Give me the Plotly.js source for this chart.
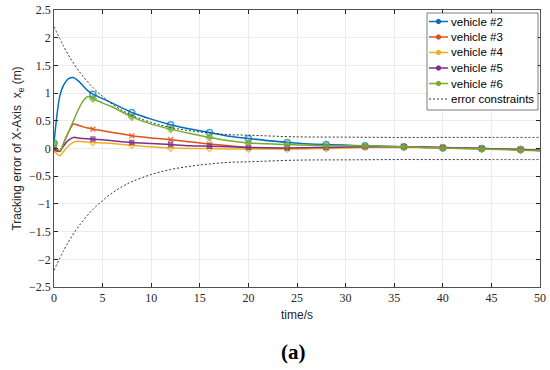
<!DOCTYPE html>
<html>
<head>
<meta charset="utf-8">
<script src="https://cdn.plot.ly/plotly-3.0.1.min.js"></script>
<style>html,body{margin:0;padding:0;background:#fff;}#chart{width:550px;height:370px;}</style>
</head>
<body>
<div id="chart"></div>
<script>
// time samples (s)
var timeS = [0,0.3,0.6,1,1.5,2,2.5,3,3.5,4,5,6,8,10,12,14,16,18,20,24,28,32,36,40,44,48,50];
// tracking error of X axis (m) per vehicle
var vehicle2 = [0.10,0.60,0.95,1.15,1.26,1.28,1.22,1.13,1.04,0.98,0.90,0.82,0.65,0.53,0.43,0.35,0.29,0.22,0.18,0.11,0.07,0.05,0.03,0.01,0.00,-0.02,-0.04];
var vehicle3 = [0.00,-0.04,-0.05,0.10,0.30,0.44,0.42,0.39,0.37,0.35,0.32,0.29,0.23,0.19,0.16,0.12,0.08,0.05,0.02,0.00,0.01,0.03,0.03,0.02,0.00,-0.02,-0.03];
var vehicle4 = [-0.02,-0.10,-0.13,-0.05,0.05,0.11,0.13,0.12,0.115,0.11,0.10,0.09,0.06,0.03,0.01,0.00,0.00,-0.01,-0.01,-0.01,0.00,0.02,0.02,0.01,-0.01,-0.02,-0.03];
var vehicle5 = [0.00,-0.04,-0.05,0.05,0.15,0.20,0.19,0.18,0.175,0.17,0.16,0.14,0.11,0.09,0.07,0.05,0.04,0.03,0.02,0.01,0.02,0.03,0.03,0.02,0.00,-0.02,-0.03];
var vehicle6 = [0.10,0.00,-0.04,0.10,0.30,0.50,0.70,0.86,0.94,0.90,0.82,0.75,0.57,0.44,0.35,0.27,0.20,0.14,0.10,0.07,0.05,0.05,0.03,0.01,-0.01,-0.03,-0.04];
// error constraint envelope
var boundT = [0,1,2,3,4,5,6,7,8,10,12,14,16,18,20,25,30,35,40,45,50];
var boundUpper = [2.2,1.84,1.54,1.30,1.10,0.94,0.80,0.69,0.60,0.47,0.38,0.32,0.28,0.25,0.24,0.21,0.205,0.2,0.2,0.2,0.2];
var boundLower = [-2.2,-1.84,-1.54,-1.30,-1.10,-0.94,-0.80,-0.69,-0.60,-0.47,-0.38,-0.32,-0.28,-0.25,-0.24,-0.21,-0.205,-0.2,-0.2,-0.2,-0.2];
// markers shown every 4 s
var markerEvery = 4;
var names = ['vehicle #2','vehicle #3','vehicle #4','vehicle #5','vehicle #6'];
var boundName = 'error constraints';

var series = [vehicle2, vehicle3, vehicle4, vehicle5, vehicle6];
var colors = ['#0072BD','#D95319','#EDB120','#7E2F8E','#77AC30'];
var symbols = ['circle-open','x-thin-open','diamond-open','square','diamond'];
var msizes = [6,5,5,4,5];
var boundColor = '#333333';

var sizesFor = function(s){ return timeS.map(function(t){ return (t % markerEvery === 0) ? s : 0; }); };

var traces = series.map(function(ys, i){
  return {
    x: timeS, y: ys, name: names[i], type: 'scatter', mode: 'lines+markers', showlegend: false,
    line: {color: colors[i], width: 1.5, shape: 'spline', smoothing: 0.8},
    marker: {symbol: symbols[i], size: sizesFor(msizes[i]), color: colors[i], line: {color: colors[i], width: 1.5}}
  };
});
traces.push({
  x: boundT, y: boundUpper, name: boundName, type: 'scatter', mode: 'lines', showlegend: false,
  line: {color: boundColor, width: 1, dash: '2px,2px', shape: 'spline'}
});
traces.push({
  x: boundT, y: boundLower, name: boundName, type: 'scatter', mode: 'lines', showlegend: false,
  line: {color: boundColor, width: 1, dash: '2px,2px', shape: 'spline'}
});

// ---- custom compact legend (MATLAB style), positioned in pixels ----
var PL = 54, PR = 540, PT = 10, PB = 287;
var px = function(p){ return (p - PL) / (PR - PL); };
var py = function(p){ return (PB - p) / (PB - PT); };
var shapes = [], annotations = [];
var boxL = 427, boxR = 538, boxT = 13, boxB = 110;
shapes.push({type: 'rect', xref: 'paper', yref: 'paper', x0: px(boxL), x1: px(boxR), y0: py(boxB), y1: py(boxT),
             fillcolor: '#ffffff', line: {color: '#262626', width: 0.6}, layer: 'above'});
var rowY0 = 21.5, rowDY = 15.5, lineL = 429, lineR = 448, textX = 449;
var allNames = names.concat([boundName]);
allNames.forEach(function(nm, i){
  var yy = rowY0 + i * rowDY;
  var isBound = (i === names.length);
  var col = isBound ? boundColor : colors[i];
  shapes.push({type: 'line', xref: 'paper', yref: 'paper', x0: px(lineL), x1: px(lineR), y0: py(yy), y1: py(yy),
               line: {color: col, width: isBound ? 1 : 1.5, dash: isBound ? '2px,2px' : 'solid'}, layer: 'above'});
  if (!isBound) {
    var cx = (lineL + lineR) / 2, r = 2.2;
    shapes.push({type: 'circle', xref: 'paper', yref: 'paper', x0: px(cx - r), x1: px(cx + r), y0: py(yy + r), y1: py(yy - r),
                 fillcolor: col, line: {color: col, width: 1}, layer: 'above'});
  }
  annotations.push({xref: 'paper', yref: 'paper', x: px(textX), y: py(yy), xanchor: 'left', yanchor: 'middle',
                    text: nm, showarrow: false, font: {family: 'Liberation Sans, Arial, sans-serif', size: 11.5, color: '#000'}});
});
annotations.push({
  xref: 'paper', yref: 'paper', x: px(293), y: py(352), xanchor: 'center', yanchor: 'middle',
  text: '<b>(a)</b>', showarrow: false,
  font: {family: 'Liberation Serif, DejaVu Serif, serif', size: 21, color: '#000'}
});

var tickFont = {family: 'Liberation Serif, DejaVu Serif, serif', size: 12, color: '#262626'};
var titleFont = {family: 'Liberation Sans, Arial, sans-serif', size: 12, color: '#262626'};
var layout = {
  width: 550, height: 370,
  margin: {l: 54, r: 10, t: 10, b: 83},
  paper_bgcolor: '#fff', plot_bgcolor: '#fff',
  font: {family: 'Liberation Sans, Arial, sans-serif', size: 12, color: '#262626'},
  showlegend: false,
  xaxis: {range: [0, 50], dtick: 5, tick0: 0, ticks: 'inside', ticklen: 4, tickcolor: '#262626',
          showline: true, linecolor: '#262626', linewidth: 0.8, mirror: 'ticks',
          showgrid: true, gridcolor: '#ebebeb', gridwidth: 1, zeroline: false,
          tickfont: tickFont,
          title: {text: 'time/s', standoff: 6, font: titleFont}},
  yaxis: {range: [-2.5, 2.5], dtick: 0.5, tick0: 0, ticks: 'inside', ticklen: 4, tickcolor: '#262626',
          showline: true, linecolor: '#262626', linewidth: 0.8, mirror: 'ticks',
          showgrid: true, gridcolor: '#ebebeb', gridwidth: 1, zeroline: false,
          tickfont: tickFont,
          title: {text: 'Tracking error of X-Axis  x<sub>e</sub> (m)', standoff: 4, font: titleFont}},
  shapes: shapes,
  annotations: annotations
};

Plotly.newPlot('chart', traces, layout, {displayModeBar: false, staticPlot: true});
</script>
</body>
</html>
